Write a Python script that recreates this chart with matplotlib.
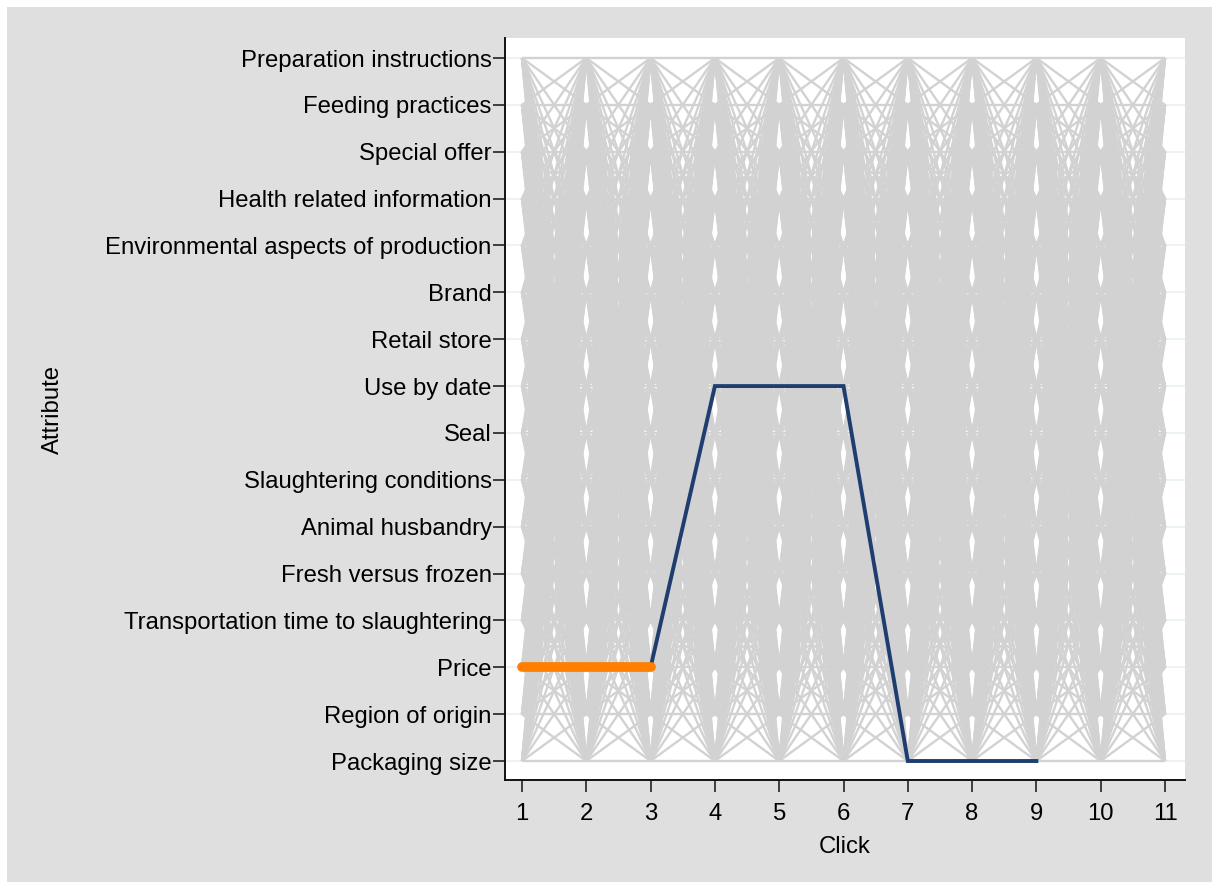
import matplotlib
matplotlib.use("Agg")
import matplotlib.pyplot as plt
from matplotlib.collections import LineCollection
from matplotlib.patches import Rectangle
import itertools

plt.rcParams['font.family'] = ['Liberation Sans', 'DejaVu Sans']

# Attribute levels, bottom (1) to top (16)
attributes = [
    "Packaging size",
    "Region of origin",
    "Price",
    "Transportation time to slaughtering",
    "Fresh versus frozen",
    "Animal husbandry",
    "Slaughtering conditions",
    "Seal",
    "Use by date",
    "Retail store",
    "Brand",
    "Environmental aspects of production",
    "Health related information",
    "Special offer",
    "Feeding practices",
    "Preparation instructions",
]
clicks = list(range(1, 12))

# Every attribute-to-attribute transition occurs between consecutive clicks
observed_from = list(range(1, len(attributes) + 1))
observed_to = list(range(1, len(attributes) + 1))

# Highlighted sequence
highlight_clicks = [3, 4, 5, 6, 7, 8, 9]
highlight_attr = ["Price", "Use by date", "Use by date", "Use by date",
                  "Packaging size", "Packaging size", "Packaging size"]

# Initial dwell segment
start_clicks = [1, 2, 3]
start_attr = ["Price", "Price", "Price"]

W, H = 1212, 882
fig = plt.figure(figsize=(W / 100, H / 100), dpi=100)
fig.patch.set_facecolor("#dfdfdf")
# thin white margin along the top and left edges
fig.patches.append(Rectangle((0, 1 - 7 / H), 1, 7 / H, transform=fig.transFigure,
                             facecolor="white", edgecolor="none", zorder=-5))
fig.patches.append(Rectangle((0, 0), 7 / W, 1, transform=fig.transFigure,
                             facecolor="white", edgecolor="none", zorder=-5))

ax = fig.add_axes([505 / W, 1 - 780 / H, (1185 - 505) / W, (780 - 38) / H])
ax.set_facecolor("white")

pos = {a: i + 1 for i, a in enumerate(attributes)}

# horizontal grid at each attribute level
for lv in range(1, len(attributes) + 1):
    ax.axhline(lv, color="#e9f1f2", lw=1.2, zorder=0)

segs = []
for c0, c1 in zip(clicks[:-1], clicks[1:]):
    for a0, a1 in itertools.product(observed_from, observed_to):
        segs.append([(c0, a0), (c1, a1)])
ax.add_collection(LineCollection(segs, colors="#d2d2d2", linewidths=1.7, zorder=1))

ax.plot(highlight_clicks, [pos[a] for a in highlight_attr], color="#1f3d6e",
        lw=2.8, zorder=3, solid_joinstyle="miter")
ax.plot(start_clicks, [pos[a] for a in start_attr], color="#ff7f00",
        lw=7, solid_capstyle="round", zorder=4)

ax.set_xlim(0.7356, 11.311)
ax.set_ylim(0.5946, 16.427)
ax.set_xticks(clicks)
ax.set_yticks(range(1, len(attributes) + 1))
ax.set_yticklabels(attributes)

for s in ["top", "right"]:
    ax.spines[s].set_visible(False)
for s in ["left", "bottom"]:
    ax.spines[s].set_linewidth(1.4)
    ax.spines[s].set_color("#111111")

ax.tick_params(axis="both", direction="out", length=8.6, width=1.1, color="#111111",
               labelsize=17.2, labelcolor="black")
ax.tick_params(axis="y", pad=1)
ax.tick_params(axis="x", pad=8)

ax.set_xlabel("Click", fontsize=17.2)
ax.set_ylabel("Attribute", fontsize=17.2)
ax.yaxis.set_label_coords((53 - 505) / (1185 - 505), 0.5)
ax.xaxis.set_label_coords(0.5, (780 - 847) / (780 - 38))
ax.xaxis.label.set_va("center")
ax.yaxis.label.set_va("center")

fig.savefig("out.png", dpi=100, facecolor=fig.get_facecolor())
